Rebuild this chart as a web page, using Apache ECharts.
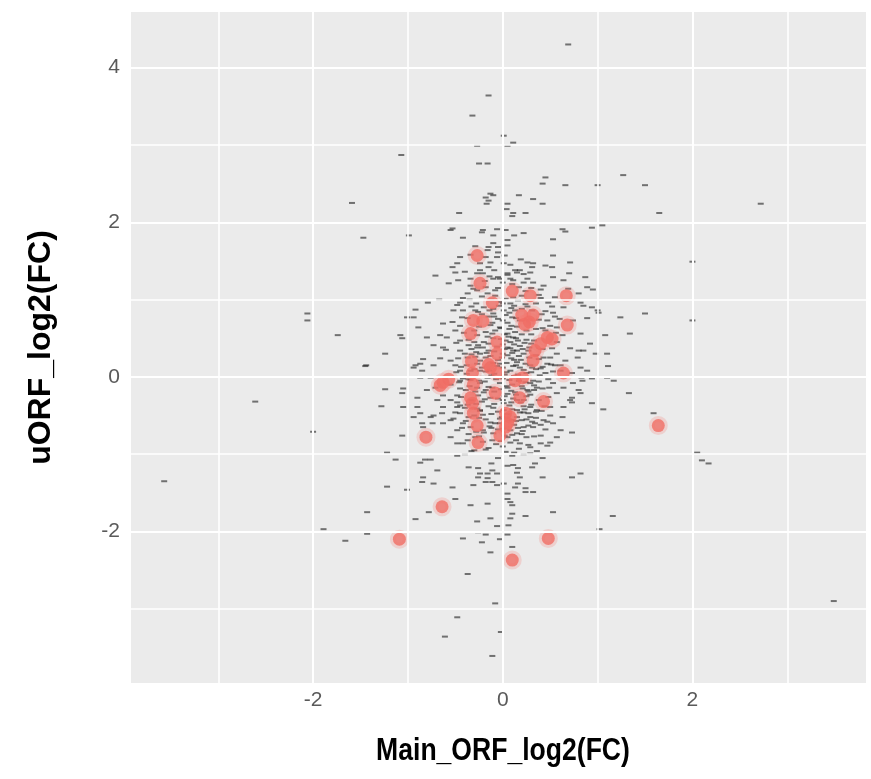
<!DOCTYPE html>
<html>
<head>
<meta charset="utf-8">
<script src="https://cdn.jsdelivr.net/npm/echarts@6.0.0/dist/echarts.min.js"></script>
<style>
  html, body { margin: 0; padding: 0; background: #fff; }
  #chart { width: 871px; height: 779px; }
</style>
</head>
<body>
<div id="chart"></div>
<script>
// axis breaks (ggplot style: major + minor grid)
var xTicks = [-2, 0, 2];
var yTicks = [-2, 0, 2, 4];
var xMinor = [-3, -1, 1, 3];
var yMinor = [-3, -1, 1, 3];

// all uORFs: [Main_ORF_log2(FC), uORF_log2(FC)]
var outerPoints = [
  [0.69,4.30],[-0.15,3.64],[-0.32,3.38],[0.01,3.12],[0.11,3.03],[-0.27,2.99],[0.05,2.99],[-1.07,2.87],
  [-0.25,2.76],[-0.16,2.76],[-0.13,2.37],[-0.18,2.32],[-0.10,2.35],[-0.15,2.28],[-0.17,2.24],[0.05,2.24],
  [0.04,2.17],[0.11,2.12],[0.10,2.08],[-0.46,2.12],[-1.47,1.80],[-0.99,1.83],[-0.53,1.92],[-0.42,1.80],
  [-0.21,1.90],[-0.22,1.87],[-0.06,1.91],[0.12,1.83],[-0.10,1.83],[0.05,1.77],[-0.10,1.73],[-0.15,1.68],
  [-0.05,1.68],[0.05,1.70],[-0.29,1.69],[-0.45,1.55],[-0.48,1.47],[-0.16,1.64],[-0.05,1.61],[-0.18,1.55],
  [-0.06,1.55],[0.01,1.47],[-0.13,1.48],[-0.15,1.42],[-0.71,1.31],[-0.50,1.35],[-0.27,1.34],[-0.21,1.34],
  [0.05,1.34],[0.13,1.38],[-0.34,1.27],[-0.10,1.27],[-0.03,1.27],
  [0.45,2.58],[0.42,2.50],[0.66,2.48],[1.00,2.48],[1.27,2.61],[1.50,2.48],[0.17,2.35],[0.32,2.30],
  [0.42,2.24],[0.24,2.12],[1.65,2.12],[0.94,1.93],[1.05,1.96],[0.63,1.91],[0.66,1.88],[0.22,1.86],
  [0.53,1.78],[0.53,1.57],[0.71,1.48],[0.26,1.48],[0.32,1.47],[0.31,1.42],[0.45,1.44],[0.52,1.42],
  [0.29,1.35],[0.15,1.35],[0.70,1.34],[0.87,1.29],[0.53,1.29],[2.00,1.49],[2.72,2.24],[2.00,0.73],
  [2.05,-0.98],[2.10,-1.08],[2.17,-1.12],[3.49,-2.90],
  [-3.57,-1.35],[-2.61,-0.32],[-2.00,-0.71],[-1.44,0.15],[-1.24,0.30],[-1.24,-0.16],[-1.28,-0.38],
  [-1.89,-1.97],[-1.66,-2.12],[-1.59,2.25],[-2.06,0.82],[-2.06,0.73],[-1.74,0.54]
];

var rightPoints = [
  [1.50,0.82],[1.24,0.77],[1.01,0.83],[1.34,0.56],[1.08,0.54],[0.92,0.43],[1.10,0.30],[0.98,0.30],
  [1.11,0.14],[0.83,-0.01],[1.10,-0.01],[1.33,-0.21],[0.94,-0.34],[1.06,-0.42],[1.59,-0.47],[0.80,0.34],
  [0.95,1.13],[0.80,1.08],[0.82,0.96],[0.94,0.90],[0.89,0.76],[0.82,0.56],[0.71,0.37],[0.66,0.21],
  [0.61,0.15],[0.73,0.05],[0.84,-0.05],[0.80,-0.17],[0.64,-0.14],[0.73,-0.27],[0.73,-0.33],[0.64,-0.39],
  [0.63,-0.52],[0.53,-0.60],[0.61,-0.69],[0.73,-0.72],[0.50,-0.85],[0.57,-0.78],[0.40,-0.76],[0.34,-0.60],
  [0.74,0.73],[0.85,0.34],[0.79,0.25],[0.82,0.12],[0.89,0.08],[0.94,-0.02],[0.74,-0.08],[0.82,-0.21],
  [0.71,-0.30],[1.17,-0.05],[0.64,1.25],[0.69,1.14],[0.89,1.16],[1.00,0.86],[0.85,0.92]
];

var lowerPoints = [
  [0.47,-0.89],[0.42,-1.05],[0.34,-1.12],[0.31,-1.17],[0.16,-1.18],[0.15,-1.24],[0.18,-1.30],[0.42,-1.30],
  [0.73,-1.30],[0.82,-1.25],[0.16,-1.38],[0.13,-1.43],[0.24,-1.44],[0.32,-1.49],[0.24,-1.49],[0.10,-1.66],
  [0.24,-1.80],[0.53,-1.75],[1.16,-1.80],[1.02,-1.97],[0.10,-2.20],[0.29,-0.99],[0.10,-1.02],[0.11,-1.14],
  [0.29,-0.91],
  [-1.22,-0.98],[-1.13,-1.07],[-0.87,-1.11],[-0.82,-1.07],[-0.76,-1.07],[-0.69,-1.21],[-0.84,-1.30],
  [-0.85,-1.36],[-0.73,-1.38],[-0.53,-1.43],[-1.01,-1.46],[-1.22,-1.42],[-0.50,-1.58],[-0.34,-1.66],
  [-0.16,-1.64],[-0.78,-1.75],[-0.92,-1.84],[-1.43,-1.75],[-1.43,-2.03],[-0.42,-2.09],[-0.26,-2.01],
  [-0.18,-2.04],[-0.22,-2.14],[-0.06,-1.93],[-0.13,-1.83],[-0.27,-1.87],[-0.03,-2.10],[0.05,-2.04],
  [-0.13,-2.27],[-0.37,-2.55],[-0.08,-2.93],[-0.48,-3.11],[-0.61,-3.36],[-0.02,-3.30],[-0.11,-3.61],
  [-0.48,-1.02],[-0.36,-1.17],[-0.26,-1.18],[-0.24,-1.25],[-0.16,-1.25],[-0.11,-1.21],[-0.06,-1.25],
  [-0.26,-1.30],[-0.16,-1.31],[-0.18,-1.36],[-0.11,-1.36],[-0.31,-1.40],[-0.06,-1.40],[0.01,-1.38],
  [0.05,-1.51],[0.05,-1.58],[0.08,-1.62],[0.10,-1.77],[0.08,-1.83],[0.06,-1.92]
];

var leftPoints = [
  [-0.57,1.21],[-0.79,0.96],[-0.67,1.00],[-0.92,0.87],[-1.01,0.77],[-0.89,0.64],[-1.06,0.50],[-1.45,0.14],
  [-0.94,0.12],[-0.84,0.23],[-0.87,0.17],[-0.85,0.08],[-1.06,-0.21],[-0.90,-0.27],[-0.90,-0.39],[-1.06,-0.76],
  [-0.94,-0.52],[-0.76,-0.52],[-0.74,-0.60],[-0.85,-0.60],[-0.63,0.69],[-0.53,0.71],[-0.50,0.60],[-0.66,0.54],
  [-0.59,0.51],[-0.73,0.41],[-0.63,0.38],[-0.66,0.24],[-0.55,0.21],[-0.76,-0.01],[-0.71,-0.14],[-0.69,-0.30],
  [-0.63,-0.24],[-0.55,-0.30],[-0.48,-0.24],[-0.63,-0.39],[-0.50,-0.46],[-0.45,-0.37],[-0.64,-0.47],[-0.52,-0.54],
  [-0.42,-0.60],[-0.63,-0.60],[-0.48,-0.69],[-0.55,-0.78],[-0.48,-0.86],[-0.37,-0.82],[-0.45,0.08],[-0.45,-0.05],
  [-0.45,0.34],[-0.45,0.47],[-0.43,0.77],[-0.42,0.86],[-0.52,0.86],[-0.45,0.96],[-0.37,1.08],[-0.34,1.18],
  [-0.55,1.90],[0.03,1.90],[0.18,1.38],[-0.53,1.42],[-0.47,1.25],[0.08,1.27],[-0.24,1.38],
  [-0.94,0.77],[-1.08,0.54],[-0.80,0.51],[-0.92,0.15],[-0.73,0.15],[-0.87,-0.01],[-1.05,-0.15],[-0.80,-0.17],
  [-1.05,-0.39],[-0.87,-0.47],[-0.73,-0.50],[-0.55,-0.56],[-0.84,-0.65],[-0.48,-0.39]
];

var corePoints = [
  [-0.27,1.12],[-0.16,1.08],[-0.05,1.29],[0.11,1.25],[-0.29,0.86],[-0.10,0.82],[0.01,0.86],[-0.03,0.64],
  [0.05,0.56],[0.11,0.51],[0.05,0.38],[0.15,0.34],[-0.15,0.34],[-0.24,0.30],[-0.27,0.38],[-0.36,0.41],
  [-0.37,0.25],[-0.34,0.08],[-0.24,0.08],[-0.16,-0.01],[-0.24,-0.08],[-0.18,-0.17],[-0.11,-0.14],[0.05,-0.14],
  [0.13,-0.20],[0.01,-0.34],[0.15,-0.43],[0.10,-0.56],[-0.03,-0.60],[-0.13,-0.59],[-0.21,-0.69],[-0.11,-0.82],
  [0.05,-0.78],[0.15,-0.73],[-0.29,-0.78],[-0.34,-0.65],[-0.36,-0.52],[-0.24,-0.43],
  [0.22,1.22],[0.32,1.22],[0.43,1.18],[0.40,1.02],[0.48,0.96],[0.55,1.03],[0.64,0.90],[0.53,0.83],
  [0.47,0.73],[0.42,0.63],[0.57,0.64],[0.63,0.54],[0.57,0.45],[0.52,0.37],[0.43,0.25],[0.50,0.25],
  [0.57,0.30],[0.61,0.08],[0.47,0.17],[0.40,0.11],[0.29,0.15],[0.15,0.19],[0.11,0.34],[0.16,0.47],
  [0.13,0.86],[0.08,0.95],[0.10,0.77],[0.29,-0.08],[0.36,-0.14],[0.26,-0.17],[0.53,-0.08],[0.57,-0.21],
  [0.50,-0.39],[0.36,-0.43],[0.29,-0.39],[0.22,-0.46],[0.15,-0.52],[0.29,-0.52],[0.43,-0.56],[0.22,-0.65],
  [0.32,-0.65],[0.18,-0.86],[0.40,-0.86],
  [-0.20,0.90],[-0.10,0.88],[0.00,0.95],[0.12,0.92],[0.20,0.88],[-0.15,0.78],[-0.05,0.75],[0.05,0.70],
  [0.15,0.65],[-0.25,0.65],[-0.18,0.58],[-0.08,0.60],[0.02,0.55],[0.20,0.55],[0.25,0.48],[-0.30,0.45],
  [-0.20,0.45],[-0.10,0.50],[0.00,0.42],[0.08,0.45],[0.18,0.40],[0.28,0.38],[-0.40,0.30],[-0.28,0.32],
  [-0.18,0.25],[-0.05,0.22],[0.05,0.28],[0.12,0.22],[0.22,0.30],[0.35,0.28],[-0.38,0.15],[-0.22,0.12],
  [-0.10,0.18],[0.00,0.12],[0.08,0.08],[0.18,0.12],[0.25,0.05],[0.35,0.10],[0.45,0.05],[-0.42,-0.02],
  [-0.25,-0.05],[-0.12,0.02],[0.00,-0.02],[0.10,-0.10],[0.20,-0.12],[0.32,-0.05],[0.42,-0.15],[-0.45,-0.15],
  [-0.35,-0.12],[-0.20,-0.20],[-0.05,-0.28],[0.05,-0.22],[0.15,-0.30],[0.25,-0.25],[0.38,-0.30],[-0.40,-0.40],
  [-0.28,-0.35],[-0.15,-0.38],[-0.05,-0.45],[0.10,-0.42],[0.22,-0.38],[0.35,-0.45],[-0.30,-0.50],[-0.18,-0.55],
  [-0.08,-0.60],[0.12,-0.62],[0.25,-0.55],[0.40,-0.62],[-0.20,-0.72],[-0.05,-0.68],[0.10,-0.75],[0.25,-0.78],
  [-0.15,-0.92],[0.00,-0.90],[0.12,-0.98],[0.22,-1.00],[-0.30,-0.95],[-0.40,-1.00],[-0.05,-1.05],[0.05,-1.15],
  [-0.12,-1.12],[0.30,1.15],[0.10,1.20],[-0.05,1.15],[0.20,1.05],[-0.12,1.00],[0.35,0.95],[0.45,0.85],
  [-0.35,1.00],[-0.50,0.15],[-0.55,-0.10],[0.50,-0.50],[0.55,0.15],[-0.60,0.35],[0.45,0.60],[0.60,0.75]
];

// extra points filling the dense centre of the cloud
var densePoints = [
  [-0.42,1.02],[-0.22,1.04],[0.03,1.01],[0.16,0.99],[0.38,1.06],
  [-0.48,0.93],[-0.33,0.91],[-0.04,0.92],[0.24,0.94],[0.52,0.91],
  [-0.26,0.84],[-0.14,0.86],[0.07,0.83],[0.31,0.86],[0.41,0.81],
  [-0.37,0.76],[-0.09,0.78],[0.00,0.73],[0.14,0.76],[0.38,0.74],[0.55,0.78],
  [-0.45,0.66],[-0.13,0.67],[-0.02,0.63],[0.09,0.66],[0.35,0.62],[0.50,0.66],
  [-0.41,0.57],[-0.27,0.54],[-0.11,0.56],[0.06,0.52],[0.13,0.58],[0.30,0.55],[0.56,0.57],
  [-0.49,0.44],[-0.36,0.48],[-0.15,0.43],[0.03,0.47],[0.12,0.42],[0.23,0.44],[0.33,0.47],
  [-0.33,0.36],[-0.21,0.38],[-0.09,0.33],[0.02,0.36],[0.10,0.31],[0.27,0.34],[0.42,0.36],
  [-0.47,0.24],[-0.29,0.26],[-0.13,0.27],[-0.01,0.25],[0.09,0.24],[0.19,0.22],[0.38,0.23],
  [-0.44,0.13],[-0.27,0.17],[-0.06,0.14],[0.04,0.18],[0.14,0.15],[0.24,0.17],[0.42,0.13],[0.51,0.16],
  [-0.49,0.06],[-0.38,0.04],[-0.18,0.07],[-0.09,0.04],[0.04,0.06],[0.16,0.03],[0.30,0.06],[0.39,0.02],[0.53,0.07],
  [-0.46,-0.07],[-0.34,-0.04],[-0.19,-0.06],[-0.03,-0.08],[0.07,-0.04],[0.24,-0.07],[0.38,-0.06],[0.48,-0.03],
  [-0.39,-0.17],[-0.27,-0.14],[-0.15,-0.13],[-0.02,-0.16],[0.09,-0.18],[0.21,-0.15],[0.33,-0.17],[0.49,-0.14],
  [-0.44,-0.26],[-0.26,-0.24],[-0.13,-0.27],[0.02,-0.25],[0.11,-0.28],[0.29,-0.23],[0.48,-0.26],
  [-0.48,-0.33],[-0.37,-0.36],[-0.22,-0.32],[-0.09,-0.35],[0.07,-0.37],[0.19,-0.33],[0.30,-0.36],[0.44,-0.38],
  [-0.45,-0.47],[-0.24,-0.44],[-0.12,-0.48],[0.01,-0.43],[0.18,-0.46],[0.27,-0.47],[0.41,-0.44],
  [-0.39,-0.57],[-0.25,-0.53],[-0.03,-0.54],[0.06,-0.57],[0.20,-0.56],[0.35,-0.53],[0.47,-0.58],
  [-0.43,-0.66],[-0.14,-0.64],[0.00,-0.67],[0.16,-0.66],[0.27,-0.63],[0.45,-0.68],
  [-0.36,-0.74],[-0.25,-0.77],[-0.10,-0.73],[0.02,-0.76],[0.20,-0.74],[0.33,-0.77],
  [-0.42,-0.86],[-0.21,-0.84],[-0.07,-0.87],[0.08,-0.85],[0.27,-0.88],
  [-0.33,-0.96],[-0.18,-0.94],[0.03,-0.97],[0.17,-0.93],[0.36,-0.96],
  [-0.31,1.14],[-0.08,1.12],[0.17,1.16],[0.40,1.13],[-0.19,1.24],[0.00,1.22],[0.26,1.27],
  [-0.40,1.36],[-0.09,1.38],[0.22,1.33],[-0.24,1.47],[0.08,1.45],[0.19,1.52],[-0.34,1.58],[0.02,1.57]
];

// innermost, darkest part of the cloud
var innerPoints = [
  [-0.28,0.95],[-0.02,0.97],[0.09,0.89],[0.26,0.91],[-0.22,0.81],[0.03,0.80],[0.18,0.73],[-0.11,0.70],
  [-0.30,0.60],[0.07,0.62],[0.25,0.60],[-0.16,0.52],[-0.02,0.49],[0.14,0.50],[0.30,0.43],[-0.26,0.41],
  [-0.06,0.39],[0.08,0.37],[0.21,0.36],[-0.33,0.29],[-0.17,0.31],[0.00,0.30],[0.17,0.27],[0.28,0.25],
  [-0.24,0.21],[-0.03,0.17],[0.11,0.14],[0.31,0.12],[-0.30,0.10],[-0.14,0.08],[0.02,0.03],[0.12,0.01],
  [0.22,0.09],[-0.36,-0.03],[-0.21,0.00],[-0.07,-0.03],[0.17,-0.05],[0.33,-0.11],[-0.29,-0.19],[-0.09,-0.19],
  [0.04,-0.12],[0.14,-0.23],[0.27,-0.19],[-0.33,-0.30],[-0.19,-0.29],[0.00,-0.30],[0.09,-0.33],[0.22,-0.30],
  [-0.27,-0.41],[-0.10,-0.40],[0.05,-0.48],[0.23,-0.42],[-0.21,-0.49],[-0.01,-0.52],[0.14,-0.57],[0.31,-0.58],
  [-0.12,-0.66],[0.08,-0.69],[0.21,-0.70],[-0.28,-0.71],[-0.02,-0.83],[0.14,-0.82],[-0.08,1.05],[0.11,1.03],
  [0.24,1.11],[-0.18,1.16],[0.05,1.32],[-0.14,1.30]
];

// highlighted uORFs (red)
var highlightPoints = [
  [-1.09,-2.10],[-0.64,-1.68],[-0.81,-0.78],[0.10,-2.37],[0.48,-2.09],[1.64,-0.63],
  [-0.27,1.57],[-0.24,1.21],[-0.11,0.96],[0.10,1.11],[0.29,1.05],[0.67,1.05],[0.68,0.67],
  [-0.31,0.73],[-0.21,0.72],[0.20,0.80],[0.32,0.80],[0.23,0.68],[0.28,0.71],
  [-0.34,0.56],[-0.06,0.45],[0.47,0.51],[0.40,0.43],[0.34,0.34],[0.52,0.49],
  [-0.33,0.20],[-0.15,0.16],[-0.13,0.12],[0.32,0.21],[-0.06,0.30],[-0.05,0.05],[0.21,-0.01],[0.64,0.05],
  [-0.63,-0.07],[-0.66,-0.11],[-0.57,-0.03],[-0.32,0.05],[-0.31,-0.10],[-0.34,-0.27],[-0.08,-0.21],
  [0.18,-0.27],[0.43,-0.32],[-0.32,-0.34],[-0.31,-0.47],[0.03,-0.47],[0.05,-0.60],[-0.27,-0.63],
  [0.03,-0.65],[-0.03,-0.76],[-0.26,-0.85],[0.13,-0.05],[0.08,-0.52]
];

var greyPoints = outerPoints.concat(rightPoints, lowerPoints, leftPoints, corePoints, densePoints, innerPoints);

var tickFont = "'Liberation Sans', Arial, sans-serif";

function gridLines(values, key, width) {
  return values.map(function (v) {
    var d = {};
    d[key] = v;
    d.lineStyle = { width: width };
    return d;
  });
}

var chart = echarts.init(document.getElementById('chart'));
chart.setOption({
  animation: false,
  grid: {
    left: 131, top: 12, width: 735, height: 671,
    show: true, backgroundColor: '#EBEBEB', borderWidth: 0
  },
  // x title drawn as text so it can be squeezed like the reference
  graphic: [{
    type: 'text', x: 503, y: 751, scaleX: 0.83, silent: true,
    style: {
      text: 'Main_ORF_log2(FC)', fill: '#000',
      font: "bold 32px 'Liberation Sans', Arial, sans-serif",
      textAlign: 'center', textVerticalAlign: 'middle'
    }
  }],
  xAxis: {
    type: 'value', min: -3.92, max: 3.83,
    splitLine: { show: false },
    axisLine: { show: false },
    axisTick: { show: true, customValues: xTicks, length: 5, lineStyle: { color: '#5a5a5a', width: 1 } },
    axisLabel: { customValues: xTicks, color: '#5a5a5a', fontSize: 21, fontFamily: tickFont, margin: 7 }
  },
  yAxis: {
    type: 'value', min: -3.96, max: 4.72,
    splitLine: { show: false },
    axisLine: { show: false },
    axisTick: { show: true, customValues: yTicks, length: 5, lineStyle: { color: '#5a5a5a', width: 1 } },
    axisLabel: { customValues: yTicks, color: '#5a5a5a', fontSize: 21, fontFamily: tickFont, margin: 11 },
    name: 'uORF_log2(FC)',
    nameLocation: 'middle',
    nameGap: 74,
    nameTextStyle: { color: '#000', fontSize: 32, fontWeight: 'bold', fontFamily: tickFont }
  },
  series: [
    {
      type: 'scatter', data: [], z: 1, silent: true,
      markLine: {
        silent: true, symbol: ['none', 'none'], label: { show: false },
        lineStyle: { color: '#ffffff', type: 'solid', width: 2 },
        emphasis: { disabled: true },
        data: gridLines(xMinor, 'xAxis', 1.6)
          .concat(gridLines(yMinor, 'yAxis', 1.6))
          .concat(gridLines(xTicks, 'xAxis', 2))
          .concat(gridLines(yTicks, 'yAxis', 2))
      }
    },
    {
      type: 'scatter', z: 2, silent: true,
      symbol: 'rect', symbolSize: [6, 2],
      itemStyle: { color: 'rgba(30,30,30,0.75)' },
      data: greyPoints
    },
    {
      type: 'scatter', z: 3, silent: true,
      symbol: 'circle', symbolSize: 13,
      itemStyle: { color: '#EF6B63', borderColor: 'rgba(248,118,109,0.28)', borderWidth: 6 },
      data: highlightPoints
    }
  ]
});
</script>
</body>
</html>
